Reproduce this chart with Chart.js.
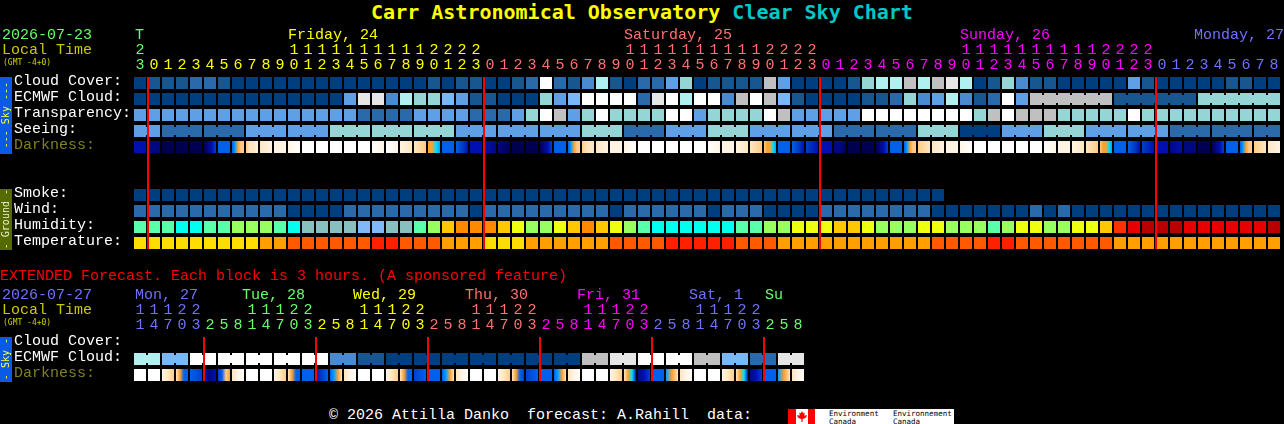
<!DOCTYPE html>
<html>
<head>
<meta charset="utf-8">
<title>Carr Astronomical Observatory Clear Sky Chart</title>
<script src="https://cdn.jsdelivr.net/npm/chart.js@4"></script>
<style>
    html, body { margin: 0; padding: 0; background: #000; }
    body { position: relative; width: 1284px; height: 424px; overflow: hidden; font-family: "Liberation Mono", monospace; font-size: 15px; color: #fff; }
    canvas { position: absolute; left: 0; }
    .txt { position: absolute; white-space: pre; line-height: 15px; }
    h1 { position: absolute; left: 0; top: 0; width: 1284px; margin: 0; text-align: center; font-family: "DejaVu Sans Mono", monospace; font-size: 20px; line-height: 24px; font-weight: bold; color: #ffff00; }
    h1 span { color: #00c8c8; }
    .side { position: absolute; left: 0; width: 12px; display: flex; align-items: center; justify-content: center; font-size: 10px; white-space: pre; font-family: "DejaVu Sans Mono", monospace; }
    .side span { writing-mode: vertical-rl; transform: rotate(180deg); line-height: 12px; }
    .sky { background: #0a5ae6; color: #ffff40; }
    .ground { background: #556b00; color: #f0f0d0; }
    .gmt { font-family: "DejaVu Sans Mono", monospace; font-size: 8px; color: #d0d000; }
    #logo { position: absolute; left: 788px; top: 409px; width: 166px; height: 15px; background: #fff; overflow: hidden; }
    #logo div { position: absolute; }
    #logo .lbl { color: #000; font-family: "DejaVu Sans Mono", monospace; font-size: 7.5px; line-height: 7.5px; white-space: pre; top: 1px; }
</style>
</head>
<body>
<h1>Carr Astronomical Observatory <span>Clear Sky Chart</span></h1>

<canvas id="chartMain" width="1284" height="262" style="top:0"></canvas>
<canvas id="chartExt" width="1284" height="128" style="top:262px"></canvas>

<div class="txt" style="left:2px;top:28px;color:#66ff66">2026-07-23</div>
<div class="txt" style="left:2px;top:43px;color:#c8c800">Local Time</div>
<div class="txt gmt" style="left:3px;top:55px">(GMT -4+0)</div>
<div class="side sky" style="top:77px;height:77px"><span>--- Sky ---</span></div>
<div class="side ground" style="top:189px;height:61px"><span>- Ground -</span></div>

<div class="txt" style="left:0;top:269px;color:#ff0000">EXTENDED Forecast. Each block is 3 hours. (A sponsored feature)</div>
<div class="txt" style="left:2px;top:288px;color:#7070ff">2026-07-27</div>
<div class="txt" style="left:2px;top:303px;color:#c8c800">Local Time</div>
<div class="txt gmt" style="left:3px;top:315px">(GMT -4+0)</div>
<div class="side sky" style="top:337px;height:45px"><span>- Sky -</span></div>

<div class="txt" style="left:329px;top:408px">© 2026 Attilla Danko  forecast: A.Rahill  data:</div>
<div id="logo">
    <div style="left:0;top:0;width:8px;height:15px;background:#f00"></div>
    <div style="left:20px;top:0;width:7px;height:15px;background:#f00"></div>
    <div style="left:9px;top:2px;width:10px;height:11px;background:#f00;clip-path:polygon(50% 0,62% 20%,78% 14%,72% 42%,100% 38%,90% 60%,56% 76%,56% 100%,44% 100%,44% 76%,10% 60%,0 38%,28% 42%,22% 14%,38% 20%)"></div>
    <div class="lbl" style="left:41px">Environment
Canada</div>
    <div class="lbl" style="left:105px">Environnement
Canada</div>
</div>

<script>
// colours for the cloud, transparency and seeing levels
var skyColors = ['#003f7f', '#17568f', '#2a6aaa', '#4a8ad0', '#5f9fe5', '#78b8f8', '#95d5d5', '#b0f0f0', '#c0c0c0', '#e6e6e6', '#ffffff'];
var humidityColors = ['#80b8f8', '#88c0c0', '#00ffee', '#5affaa', '#98ff60', '#eeff10', '#ffc800', '#ff8a00', '#ff3000', '#e80000', '#b80000'];
var temperatureColors = ['#ffdd00', '#ffa000', '#ff5a00', '#ff2000'];
// darkness levels 0..b, written as hex digits below (several samples across one block)
var darknessColors = ['#ffffff', '#fff4e4', '#ffe6c0', '#ffcb88', '#ffa030', '#00e0ff', '#00a0ff', '#0060e8', '#0040c8', '#0010b0', '#000880', '#000050'];

// main chart, one value per hour
var hours = [23,
    0, 1, 2, 3, 4, 5, 6, 7, 8, 9, 10, 11, 12, 13, 14, 15, 16, 17, 18, 19, 20, 21, 22, 23,
    0, 1, 2, 3, 4, 5, 6, 7, 8, 9, 10, 11, 12, 13, 14, 15, 16, 17, 18, 19, 20, 21, 22, 23,
    0, 1, 2, 3, 4, 5, 6, 7, 8, 9, 10, 11, 12, 13, 14, 15, 16, 17, 18, 19, 20, 21, 22, 23,
    0, 1, 2, 3, 4, 5, 6, 7, 8];
var hourColors = ['#66ff66', '#ffff00', '#ff7070', '#ff00ff', '#7070ff'];
var dayNames = ['T', 'Friday, 24', 'Saturday, 25', 'Sunday, 26', 'Monday, 27'];
var dayStarts = [-0.36, 10.57, 34.57, 58.57, 75.29];
var rowNames = ['Cloud Cover:', 'ECMWF Cloud:', 'Transparency:', 'Seeing:', 'Darkness:', '', '', 'Smoke:', 'Wind:', 'Humidity:', 'Temperature:'];
var midnights = [0.5714, 24.5714, 48.5714, 72.5714];

var cloudCover = [0, 1, 1, 1, 2, 2, 1, 0, 0, 0, 0, 0, 0, 0, 0, 0, 0, 0, 0, 0, 0,
    1, 0, 1, 1, 0, 0, 1, 2, 10, 2, 1, 3, 7, 1, 0, 2, 2, 4, 6, 0, 1, 1, 1, 1, 8, 4, 0, 0, 0, 0, 1,
    6, 7, 7, 8, 7, 8, 9, 7, 0, 1, 6, 3, 1, 1, 0, 0, 0, 0, 0, 4, 1, 0, 0, 0, 0, 0, 1, 1, 0, 0];
var ecmwfCloud = [0, 0, 0, 0, 0, 0, 0, 0, 0, 0, 0, 0, 0, 0, 0, 4, 9, 9, 3, 7, 6,
    6, 5, 4, 1, 1, 0, 0, 0, 6, 4, 5, 10, 10, 10, 10, 2, 9, 10, 7, 10, 10, 3, 8, 10, 8, 5, 1, 0, 0, 0, 0,
    1, 1, 2, 6, 3, 4, 7, 3, 1, 2, 10, 4, 8, 8, 8, 8, 8, 8, 1, 1, 1, 1, 1, 1, 6, 6, 6, 6, 6, 6];
// ECMWF column where a joined run of blocks starts
var ecmwfJoined = [64, 65, 66, 67, 68, 70, 71, 72, 73, 74, 76, 77, 78, 79, 80];
var transparency = [4, 4, 4, 4, 4, 4, 4, 4, 4, 4, 4, 4, 4, 4, 4, 4, 2, 2, 2, 2, 4,
    4, 4, 4, 2, 2, 2, 4, 6, 10, 8, 4, 6, 10, 6, 6, 6, 6, 10, 10, 4, 6, 6, 6, 6, 10, 8, 4, 4, 4, 4, 4,
    10, 10, 10, 10, 10, 10, 10, 10, 6, 8, 10, 8, 8, 8, 6, 6, 6, 6, 6, 10, 6, 6, 6, 6, 6, 6, 6, 6, 6, 6];
var seeing = [4, 4, 2, 2, 2, 2, 2, 2, 4, 4, 4, 4, 4, 4, 6, 6, 6, 6, 6, 6, 6, 6, 6,
    4, 4, 4, 4, 4, 4, 4, 4, 4, 6, 6, 6, 2, 2, 2, 4, 4, 4, 6, 6, 6, 4, 4, 4, 4, 4, 4,
    2, 2, 2, 2, 2, 2, 6, 6, 6, 0, 0, 0, 4, 4, 4, 6, 6, 6, 4, 4, 4, 4, 4, 4, 2, 2, 2, 2, 2, 2, 2, 2];
// seeing is a 3 hour forecast, these are the blocks joined to the next one
var seeingJoined = [0, 2, 3, 5, 6, 8, 9, 11, 12, 14, 15, 17, 18, 20, 21, 23, 24, 26, 27, 29, 30, 32, 33, 35, 36, 38, 39, 41, 42,
    44, 45, 47, 48, 50, 51, 53, 54, 56, 57, 59, 60, 62, 63, 65, 66, 68, 69, 71, 72, 74, 75, 77, 78, 80];
var darkness = ['99', 'aa', 'bb', 'bb', 'bb', 'ba98', '77', '76433', '3221', '21', '11', '10', '0', '0', '0', '0', '0', '01', '01', '12', '23',
    '4456', '77', '789', '99', '9a', 'ab', 'bb', 'bb', 'ba98', '77', '76433', '322', '21', '11', '10', '0', '0', '0', '0', '0', '01', '11', '12', '23', '34456', '77', '789', '89', '99', 'aab', 'bb',
    'bb', 'ba98', '77', '76433', '32', '21', '11', '10', '0', '0', '0', '0', '0', '01', '11', '12', '23', '34456', '77', '789', '89', '99', 'a9', 'aa', 'bb', 'ba98', '77', '76433', '32', '21'];
var smoke = [0, 0, 0, 0, 0, 0, 0, 0, 0, 0, 0, 0, 0, 0, 0, 0, 0, 0, 0, 0, 0, 0, 0, 0, 0, 0, 0, 0, 0, 0,
    0, 0, 0, 0, 0, 0, 0, 0, 0, 0, 0, 0, 0, 0, 0, 0, 0, 0, 0, 0, 0, 0, 0, 0, 0, 0, 0, 0];
var wind = [2, 2, 2, 2, 2, 2, 2, 2, 2, 2, 2, 0, 0, 0, 0, 2, 2, 2, 2, 2, 2,
    2, 2, 2, 0, 2, 2, 2, 2, 2, 2, 2, 2, 2, 0, 2, 2, 2, 2, 2, 2, 0, 2, 2, 2, 0, 0, 0, 0, 2, 2, 2,
    2, 2, 2, 2, 2, 0, 0, 0, 0, 0, 0, 0, 2, 0, 2, 0, 0, 0, 0, 0, 0, 0, 0, 0, 0, 0, 0, 0, 0, 0];
var humidity = [3, 3, 3, 2, 2, 3, 3, 4, 4, 4, 3, 2, 1, 1, 1, 1, 0, 0, 1, 1, 3,
    4, 6, 7, 7, 7, 6, 5, 4, 4, 5, 6, 7, 6, 5, 4, 3, 2, 2, 2, 2, 2, 2, 3, 3, 4, 4, 5, 5, 5, 6, 6,
    5, 4, 4, 4, 5, 5, 4, 4, 4, 3, 4, 5, 5, 4, 4, 5, 5, 6, 8, 9, 10, 10, 10, 9, 9, 9, 9, 9, 9, 10];
var temperature = [0, 0, 0, 0, 0, 0, 0, 0, 0, 1, 1, 2, 2, 2, 2, 2, 2, 3, 3, 2, 2,
    2, 1, 1, 1, 0, 0, 0, 1, 1, 1, 1, 1, 1, 2, 2, 2, 2, 3, 3, 3, 3, 3, 2, 2, 2, 1, 1, 1, 1, 1, 1,
    1, 1, 1, 1, 1, 2, 2, 2, 2, 3, 3, 2, 2, 2, 2, 2, 2, 2, 1, 1, 1, 1, 1, 1, 1, 1, 1, 1, 1, 1];

// extended chart, one value per 3 hours
var extHours = [11, 14, 17, 20, 23, 2, 5, 8, 11, 14, 17, 20, 23, 2, 5, 8, 11, 14, 17, 20, 23, 2, 5, 8,
    11, 14, 17, 20, 23, 2, 5, 8, 11, 14, 17, 20, 23, 2, 5, 8, 11, 14, 17, 20, 23, 2, 5, 8];
var extHourColors = ['#7070ff', '#66ff66', '#ffff00', '#ff7070', '#ff00ff', '#7070ff', '#66ff66'];
var extDayNames = ['Mon, 27', 'Tue, 28', 'Wed, 29', 'Thu, 30', 'Fri, 31', 'Sat, 1', 'Su'];
var extDayStarts = [-0.36, 7.29, 15.21, 23.21, 31.21, 39.21, 44.64];
var extRowNames = ['Cloud Cover:', 'ECMWF Cloud:', 'Darkness:'];
var extMidnights = [4.5714, 12.5714, 20.5714, 28.5714, 36.5714, 44.5714];
var extEcmwf = [7, 7, 5, 5, 10, 10, 10, 10, 10, 10, 10, 10, 10, 10, 3, 3, 1, 1, 0, 0, 0, 0, 0, 0,
    0, 0, 0, 0, 0, 0, 0, 0, 8, 8, 9, 9, 10, 10, 10, 10, 8, 8, 5, 5, 2, 2, 9, 9];
var extJoined = [0, 2, 4, 6, 8, 10, 12, 14, 16, 18, 20, 22, 24, 26, 28, 30, 32, 34, 36, 38, 40, 42, 44, 46];
var extDarkness = ['0', '0', '123', '2477', '78', '9a9', '8734', '210',
    '0', '0', '123', '2477', '77', '987', '7642', '210',
    '0', '0', '123', '2477', '87', '77', '7642', '210',
    '0', '0', '123', '2478', '87', '77', '7642', '210',
    '0', '0', '123', '2459', 'a98', '77', '642', '210',
    '0', '0', '123', '2459', 'a98', '77', '642', '210'];

var BLOCK = 0.375;
var JOIN = 0.25;

// one row of floating bars
function rowDataset(values, row, colors) {
    return {
        stack: 's',
        data: values.map(function (v, i) { return { x: i, y: [row - BLOCK, row + BLOCK] }; }),
        backgroundColor: values.map(function (v) { return colors[v]; })
    };
}

// the small bridges between blocks that belong to the same forecast period
function joinDataset(columns, values, row, colors) {
    return {
        stack: 's',
        barThickness: 2,
        data: columns.map(function (c) { return { x: c + 0.5, y: [row - JOIN, row + JOIN] }; }),
        backgroundColor: columns.map(function (c) { return colors[values[c]]; })
    };
}

function darknessDataset(values, row) {
    return {
        stack: 's',
        data: values.map(function (v, i) { return { x: i, y: [row - BLOCK, row + BLOCK] }; }),
        backgroundColor: function (context) {
            var samples = values[context.dataIndex];
            var chart = context.chart;
            if (!samples) return '#000';
            if (samples.length === 1 || !chart.chartArea) return darknessColors[parseInt(samples[0], 16)];
            var mid = chart.scales.x.getPixelForValue(context.dataIndex);
            var grad = chart.ctx.createLinearGradient(mid - 6, 0, mid + 6, 0);
            samples.split('').forEach(function (s, i) {
                grad.addColorStop(i / (samples.length - 1), darknessColors[parseInt(s, 16)]);
            });
            return grad;
        }
    };
}

function lineDataset(columns, lastRow) {
    return {
        stack: 's',
        barThickness: 2,
        data: columns.map(function (c) { return { x: c, y: [-BLOCK, lastRow + BLOCK] }; }),
        backgroundColor: '#ff0000'
    };
}

// color of a column label, it changes at midnight
function hourColor(value, hourList, colors) {
    var n = 0;
    for (var i = 1; i <= value; i++) {
        if (hourList[i] < hourList[i - 1]) n++;
    }
    return colors[n];
}

function fixHeight(height) {
    return function (scale) {
        scale.height = height;
        // no room for labels that stick out of the plot, the columns have to stay on 14px
        scale.paddingLeft = 0;
        scale.paddingRight = 0;
    };
}

function makeChart(id, opts) {
    var font = { family: '"Liberation Mono"', size: 15, lineHeight: '15px' };
    return new Chart(document.getElementById(id).getContext('2d'), {
        type: 'bar',
        data: { datasets: opts.datasets },
        options: {
            responsive: false,
            animation: false,
            events: [],
            layout: { padding: { left: 14, right: opts.right, top: opts.top, bottom: opts.bottom } },
            datasets: { bar: { barThickness: 12, inflateAmount: 0, borderSkipped: false, borderWidth: 0 } },
            plugins: { legend: { display: false }, tooltip: { enabled: false }, title: { display: false } },
            scales: {
                x: {
                    type: 'linear',
                    position: 'top',
                    stacked: true,
                    offset: false,
                    min: -0.5,
                    max: opts.hours.length - 0.5,
                    grid: { display: false, drawTicks: false },
                    border: { display: false },
                    afterBuildTicks: function (scale) {
                        scale.ticks = opts.hours.map(function (h, i) { return { value: i }; });
                    },
                    afterFit: fixHeight(32),
                    ticks: {
                        autoSkip: false,
                        maxRotation: 0,
                        padding: 2,
                        font: font,
                        color: function (c) { return hourColor(c.tick.value, opts.hours, opts.hourColors); },
                        callback: function (value) {
                            var h = opts.hours[value];
                            return [h >= 10 ? String(Math.floor(h / 10)) : '', String(h % 10)];
                        }
                    }
                },
                days: {
                    type: 'linear',
                    axis: 'x',
                    position: 'top',
                    weight: 1,
                    offset: false,
                    min: -0.5,
                    max: opts.hours.length - 0.5,
                    grid: { display: false, drawTicks: false },
                    border: { display: false },
                    afterBuildTicks: function (scale) {
                        scale.ticks = opts.dayStarts.map(function (d) { return { value: d }; });
                    },
                    afterFit: fixHeight(17),
                    ticks: {
                        autoSkip: false,
                        maxRotation: 0,
                        align: 'start',
                        padding: 0,
                        font: font,
                        color: function (c) { return opts.hourColors[c.index]; },
                        callback: function (value, index) { return opts.dayNames[index]; }
                    }
                },
                y: {
                    type: 'linear',
                    position: 'left',
                    reverse: true,
                    stacked: false,
                    min: -0.5,
                    max: opts.rows.length - 0.5,
                    grid: { display: false, drawTicks: false },
                    border: { display: false },
                    // labels sit slightly above the middle of their row
                    afterBuildTicks: function (scale) {
                        scale.ticks = opts.rows.map(function (r, i) { return { value: i - 0.1 }; });
                    },
                    afterFit: function (scale) {
                        scale.width = 119;
                        scale.paddingTop = 0;
                        scale.paddingBottom = 0;
                    },
                    ticks: {
                        autoSkip: false,
                        crossAlign: 'far',
                        padding: 0,
                        font: font,
                        color: function (c) { return opts.rows[c.index] === 'Darkness:' ? '#808020' : '#ffffff'; },
                        callback: function (value, index) { return opts.rows[index]; }
                    }
                }
            }
        }
    });
}

document.addEventListener('DOMContentLoaded', function () {
    makeChart('chartMain', {
        top: 26,
        bottom: 11,
        right: 3,
        hours: hours,
        hourColors: hourColors,
        dayNames: dayNames,
        dayStarts: dayStarts,
        rows: rowNames,
        datasets: [
            lineDataset(midnights, 10),
            rowDataset(cloudCover, 0, skyColors),
            rowDataset(ecmwfCloud, 1, skyColors),
            joinDataset(ecmwfJoined, ecmwfCloud, 1, skyColors),
            rowDataset(transparency, 2, skyColors),
            rowDataset(seeing, 3, skyColors),
            joinDataset(seeingJoined, seeing, 3, skyColors),
            darknessDataset(darkness, 4),
            rowDataset(smoke, 7, skyColors),
            rowDataset(wind, 8, skyColors),
            rowDataset(humidity, 9, humidityColors),
            rowDataset(temperature, 10, temperatureColors)
        ]
    });

    makeChart('chartExt', {
        top: 24,
        bottom: 7,
        right: 479,
        hours: extHours,
        hourColors: extHourColors,
        dayNames: extDayNames,
        dayStarts: extDayStarts,
        rows: extRowNames,
        datasets: [
            lineDataset(extMidnights, 2),
            rowDataset(extEcmwf, 1, skyColors),
            joinDataset(extJoined, extEcmwf, 1, skyColors),
            darknessDataset(extDarkness, 2)
        ]
    });
});
</script>
</body>
</html>
